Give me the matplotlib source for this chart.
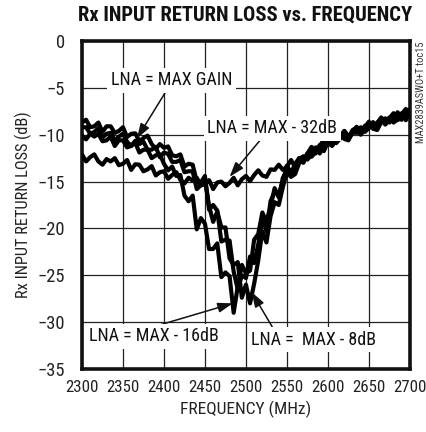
import matplotlib
matplotlib.use('Agg')
from matplotlib import pyplot as plt
import numpy as np

plt.rcParams['font.family'] = ['Liberation Sans Narrow', 'Roboto Condensed', 'DejaVu Sans Condensed',
                               'Open Sans Condensed', 'Roboto', 'DejaVu Sans']

# sweep, 5 MHz steps
freq = np.arange(2300, 2701, 5)

# LNA = MAX - 32dB
rl_max32 = [-12.1, -12.85, -12.4, -12.1, -12.85, -13.2, -12.6, -12.85, -12.5, -13.25,
            -13.1, -12.7, -13.75, -13.15, -13.2, -13.9, -13.7, -13.35, -14.35, -14.0,
            -13.9, -14.7, -14.3, -14.0, -14.8, -15.2, -14.6, -14.9, -14.6, -15.4,
            -15.3, -14.85, -15.8, -15.1, -15.0, -15.5, -15.15, -14.6, -15.4, -14.75,
            -14.4, -14.95, -14.3, -13.8, -14.35, -14.5, -13.7, -13.75, -13.2, -13.75,
            -13.4, -12.7, -13.45, -12.6, -12.3, -12.65, -12.1, -11.35, -12.0, -11.2,
            -10.7, -11.2, -10.5, -9.9, -10.45, -10.6, -9.75, -9.8, -9.2, -9.7,
            -9.3, -8.65, -9.4, -8.5, -8.25, -8.7, -8.25, -7.6, -8.3, -7.65, -7.3]

# LNA = MAX GAIN
rl_maxgain = [-8.7, -8.4, -9.2, -9.1, -8.7, -9.7, -9.1, -9.1, -9.8, -9.6,
              -9.2, -10.25, -9.9, -9.85, -10.7, -10.35, -10.1, -11.0, -11.5, -11.0,
              -11.4, -11.25, -12.2, -12.3, -12.1, -13.4, -13.1, -13.2, -15.0, -15.1,
              -14.4, -18.0, -17.5, -18.1, -21.4, -21.2, -21.3, -24.6, -26.5, -25.0,
              -25.3, -23.0, -23.7, -21.7, -18.8, -20.3, -17.1, -16.1, -16.4, -15.0,
              -13.3, -14.1, -13.1, -12.5, -12.8, -12.0, -11.3, -11.7, -11.75, -10.8,
              -10.8, -10.2, -10.7, -10.3, -9.6, -10.35, -9.5, -9.25, -9.7, -9.25,
              -8.6, -9.35, -8.7, -8.35, -8.9, -8.25, -7.7, -8.25, -8.4, -7.55, -7.6]

# LNA = MAX - 8dB
rl_max8 = [-9.2, -9.2, -9.9, -9.7, -9.3, -10.3, -9.9, -9.8, -10.6, -10.2,
           -9.9, -10.75, -11.2, -10.65, -11.0, -10.75, -11.6, -11.6, -11.3, -12.4,
           -11.9, -12.05, -12.9, -12.9, -12.7, -14.0, -13.9, -13.9, -15.8, -15.4,
           -14.8, -17.6, -19.3, -18.2, -19.9, -19.9, -23.2, -23.9, -23.6, -27.4,
           -26.0, -28.0, -25.9, -23.4, -20.3, -21.5, -18.7, -17.2, -17.5, -15.6,
           -14.0, -14.5, -14.2, -13.0, -12.8, -12.0, -12.35, -11.85, -11.1, -11.75,
           -10.8, -10.5, -10.9, -10.4, -9.7, -10.45, -9.8, -9.45, -10.0, -9.35,
           -8.8, -9.35, -9.5, -8.65, -8.7, -8.15, -8.7, -8.35, -7.7, -8.45, -7.6]

# LNA = MAX - 16dB
rl_max16 = [-10.1, -10.5, -9.9, -10.2, -9.9, -10.7, -10.6, -10.2, -11.2, -10.6,
            -10.6, -11.35, -11.2, -10.85, -11.9, -11.6, -11.6, -12.5, -12.2, -12.1,
            -13.1, -13.8, -13.4, -14.4, -14.3, -16.5, -17.1, -16.5, -20.1, -18.9,
            -19.5, -22.2, -22.2, -21.6, -25.2, -24.7, -25.1, -29.0, -26.2, -23.9,
            -24.8, -24.5, -21.2, -20.6, -18.3, -19.3, -17.7, -15.7, -16.7, -14.6,
            -13.8, -14.2, -13.4, -12.5, -13.0, -12.15, -11.6, -12.0, -11.2, -10.55,
            -11.0, -11.1, -10.2, -10.2, -9.6, -10.15, -9.8, -9.15, -9.9, -9.05,
            -8.8, -9.25, -8.8, -8.15, -8.9, -8.25, -7.9, -8.45, -7.8, -7.25, -7.8]

xticks = [2300, 2350, 2400, 2450, 2500, 2550, 2600, 2650, 2700]
yticks = [0, -5, -10, -15, -20, -25, -30, -35]

fig = plt.figure(figsize=(4.27, 4.32), dpi=100)
ax = fig.add_axes([0.192, 0.146, 0.768, 0.759])

for rl in [rl_max32, rl_maxgain, rl_max8, rl_max16]:
    ax.plot(freq, rl, color='black', lw=3.0, solid_joinstyle='round',
            solid_capstyle='round', zorder=3)

ax.set_xlim(2300, 2700)
ax.set_ylim(-35, 0)
ax.set_xticks(xticks)
ax.set_yticks(yticks)
ax.grid(True, color='#222222', lw=0.9)
ax.set_axisbelow(True)
ax.tick_params(length=0, colors='#222222')
ax.tick_params(axis='x', pad=8, labelsize=12.2)
ax.tick_params(axis='y', pad=12, labelsize=13.3)
for s in ax.spines.values():
    s.set_linewidth(2.6)
    s.set_color('#111111')

ax.set_xlabel('FREQUENCY (MHz)', fontsize=12.5, color='#222222', labelpad=4)
ax.set_ylabel('Rx INPUT RETURN LOSS (dB)', fontsize=11.8, color='#222222', labelpad=4)
fig.text(0.575, 0.965, 'Rx INPUT RETURN LOSS vs. FREQUENCY', ha='center', va='center',
         fontsize=14.8, fontweight='bold', color='#111111')
fig.text(0.985, 0.905, 'MAX2839ASWO+T toc15', rotation=90, ha='center', va='top',
         fontsize=7.5, color='#333333')

box = dict(boxstyle='square,pad=0.2', fc='white', ec='none')
arrow = dict(arrowstyle='-|>,head_length=0.9,head_width=0.3', color='#111111', lw=1.1,
             shrinkA=0, shrinkB=0)

# label text, label centre, arrow tail, arrow head
labels = [('LNA = MAX GAIN', (2409, -4.2), (2403, -5.3), (2367, -10.4)),
          ('LNA = MAX - 32dB', (2532, -9.3), (2520, -10.3), (2480, -14.5)),
          ('LNA = MAX - 16dB', (2388, -31.5), (2395, -30.3), (2484, -28.0)),
          ('LNA =  MAX - 8dB', (2583, -31.9), (2532, -30.5), (2507, -26.8))]
for txt, pos, tail, head in labels:
    ax.annotate('', xy=head, xytext=tail, arrowprops=arrow, zorder=4)
    ax.text(pos[0], pos[1], txt, ha='center', va='center', fontsize=13,
            color='#111111', bbox=box, zorder=5)

plt.savefig('out.png', dpi=100)
